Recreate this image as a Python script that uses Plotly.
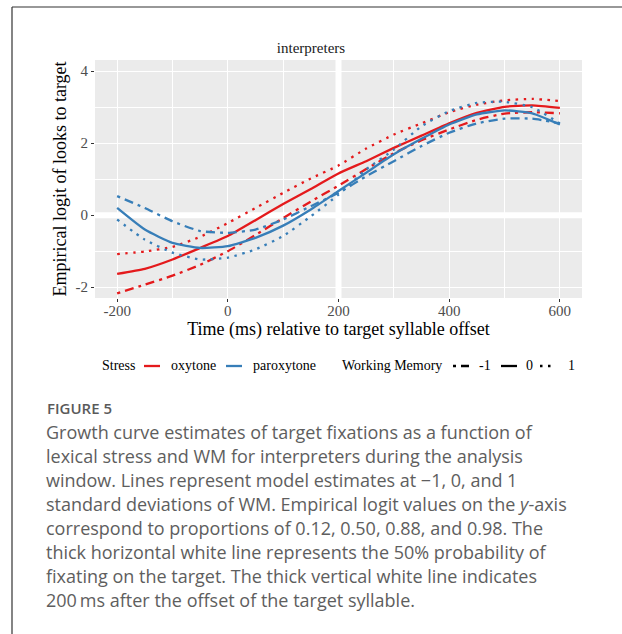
import plotly.graph_objects as go

# ---------------- data ----------------
time_ms = [-200, -150, -100, -50, 0, 50, 100, 150, 200, 250, 300, 350, 400, 450, 500, 550, 600]

oxy_wm_m1 = [-2.17, -1.93, -1.68, -1.38, -1.00, -0.55, -0.08, 0.38, 0.82, 1.28, 1.72, 2.08, 2.38, 2.65, 2.82, 2.86, 2.83]
oxy_wm_0 = [-1.63, -1.49, -1.23, -0.91, -0.58, -0.14, 0.31, 0.73, 1.16, 1.50, 1.87, 2.21, 2.55, 2.84, 3.01, 3.05, 2.98]
oxy_wm_p1 = [-1.08, -1.01, -0.88, -0.60, -0.22, 0.20, 0.62, 1.02, 1.38, 1.85, 2.24, 2.55, 2.86, 3.07, 3.19, 3.23, 3.17]

par_wm_m1 = [0.53, 0.20, -0.17, -0.44, -0.49, -0.40, -0.12, 0.25, 0.62, 1.08, 1.50, 1.92, 2.29, 2.55, 2.68, 2.68, 2.55]
par_wm_0 = [0.20, -0.40, -0.77, -0.91, -0.86, -0.63, -0.29, 0.16, 0.67, 1.18, 1.69, 2.12, 2.52, 2.80, 2.91, 2.83, 2.52]
par_wm_p1 = [-0.12, -0.68, -1.04, -1.23, -1.18, -0.95, -0.58, -0.03, 0.57, 1.27, 1.82, 2.47, 2.89, 3.12, 3.15, 3.00, 2.55]

stress_title = "Stress"
stress_labels = ["oxytone", "paroxytone"]
wm_title = "Working Memory"
wm_labels = ["-1", "0", "1"]
x_ticks = [-200, 0, 200, 400, 600]
y_ticks = [-2, 0, 2, 4]

caption_title = "FIGURE 5"
caption_lines = [
    "Growth curve estimates of target fixations as a function of",
    "lexical stress and WM for interpreters during the analysis",
    "window. Lines represent model estimates at \u22121, 0, and 1",
    "standard deviations of WM. Empirical logit values on the <i>y</i>-axis",
    "correspond to proportions of 0.12, 0.50, 0.88, and 0.98. The",
    "thick horizontal white line represents the 50% probability of",
    "fixating on the target. The thick vertical white line indicates",
    "200\u2009ms after the offset of the target syllable.",
]

# ---------------- style ----------------
RED = "#E41A1C"
BLUE = "#377EB8"
SERIF = "Liberation Serif, Times New Roman, serif"
SANS = "Open Sans, Noto Sans, sans-serif"
DASHES = {"-1": "3px,5px,9px,5px", "0": "solid", "1": "2.5px,5.5px"}
LW = 2.3

W, H = 622, 634
ML, MR, MT, MB = 95, 40, 60, 336
PW, PH = W - ML - MR, H - MT - MB


def pxx(p):
    return (p - ML) / PW


def pxy(p):
    return (H - MB - p) / PH


fig = go.Figure()

series = [
    (oxy_wm_m1, RED, "-1"), (oxy_wm_0, RED, "0"), (oxy_wm_p1, RED, "1"),
    (par_wm_m1, BLUE, "-1"), (par_wm_0, BLUE, "0"), (par_wm_p1, BLUE, "1"),
]
for ys, col, wm in series:
    fig.add_trace(go.Scatter(x=time_ms, y=ys, mode="lines", showlegend=False,
                             line=dict(color=col, width=LW, dash=DASHES[wm], shape="spline", smoothing=0.5),
                             hoverinfo="skip"))

# thick reference lines
fig.add_hline(y=0, line=dict(color="white", width=6), layer="below")
fig.add_vline(x=200, line=dict(color="white", width=6), layer="below")

axis_common = dict(showline=False, zeroline=False, ticks="outside", ticklen=3, tickcolor="#333333",
                   tickwidth=1, showgrid=True, gridcolor="white", gridwidth=1.1,
                   tickfont=dict(family=SERIF, size=15, color="#4D4D4D"))

fig.update_layout(
    width=W, height=H, showlegend=False,
    margin=dict(l=ML, r=MR, t=MT, b=MB, autoexpand=False),
    paper_bgcolor="white", plot_bgcolor="#EBEBEB",
    title=dict(text="interpreters", x=pxx(338.5), xanchor="center", y=1 - 48 / H, yanchor="middle",
               font=dict(family=SERIF, size=15, color="#1A1A1A")),
    xaxis=dict(range=[-240, 640], tickvals=x_ticks, ticktext=[str(v) for v in x_ticks],
               minor=dict(showgrid=True, gridcolor="white", gridwidth=0.5, tickvals=[-100, 100, 300, 500]),
               ticklabelstandoff=-4,
               title=dict(text="Time (ms) relative to target syllable offset", standoff=0,
                          font=dict(family=SERIF, size=18, color="black")),
               **axis_common),
    yaxis=dict(range=[-2.3, 4.31], tickvals=y_ticks, ticktext=[str(v) for v in y_ticks],
               minor=dict(showgrid=True, gridcolor="white", gridwidth=0.5, tickvals=[-1, 1, 3]),
               title=dict(text="Empirical logit of looks to target", standoff=4,
                          font=dict(family=SERIF, size=18, color="black")),
               **axis_common),
)

# ---------------- legend (two ggplot-style guides) ----------------
LEG_Y = pxy(366)
LEG_FONT = dict(family=SERIF, size=14, color="black")


def leg_text(txt, xpix):
    fig.add_annotation(text=txt, xref="paper", yref="paper", x=pxx(xpix), y=LEG_Y,
                       xanchor="left", yanchor="middle", showarrow=False, font=LEG_FONT)


def leg_key(x0pix, x1pix, color, dash):
    fig.add_shape(type="line", xref="paper", yref="paper", x0=pxx(x0pix), x1=pxx(x1pix),
                  y0=LEG_Y, y1=LEG_Y, line=dict(color=color, width=LW, dash=dash))


leg_text(stress_title, 100)
for lab, col, kx, tx in zip(stress_labels, [RED, BLUE], [144, 226], [169, 251]):
    leg_key(kx, kx + 16, col, "solid")
    leg_text(lab, tx)

leg_text(wm_title, 340)
for lab, kx, tx in zip(wm_labels, [453, 501, 540], [477, 524, 566]):
    leg_key(kx, kx + 16, "black", DASHES[lab])
    leg_text(lab, tx)

# caption
fig.add_annotation(text=caption_title, xref="paper", yref="paper", x=pxx(45), y=pxy(408),
                   xanchor="left", yanchor="middle", showarrow=False,
                   font=dict(family=SANS, size=15, color="#5A5A5A", weight=600))
for i, line in enumerate(caption_lines):
    fig.add_annotation(text=line, xref="paper", yref="paper", x=pxx(44), y=pxy(432 + 24 * i),
                       xanchor="left", yanchor="middle", showarrow=False,
                       font=dict(family=SANS, size=18, color="#5E5E5E"))

# frame
fig.add_shape(type="line", xref="paper", yref="paper", x0=pxx(12), x1=pxx(640), y0=pxy(7), y1=pxy(7),
              line=dict(color="#333333", width=1.2))
fig.add_shape(type="line", xref="paper", yref="paper", x0=pxx(12), x1=pxx(12), y0=pxy(7), y1=pxy(650),
              line=dict(color="#333333", width=1.2))

fig.write_html("out.html", config={"displayModeBar": False},
               post_script="document.body.style.margin='0';document.body.style.overflow='hidden';")
